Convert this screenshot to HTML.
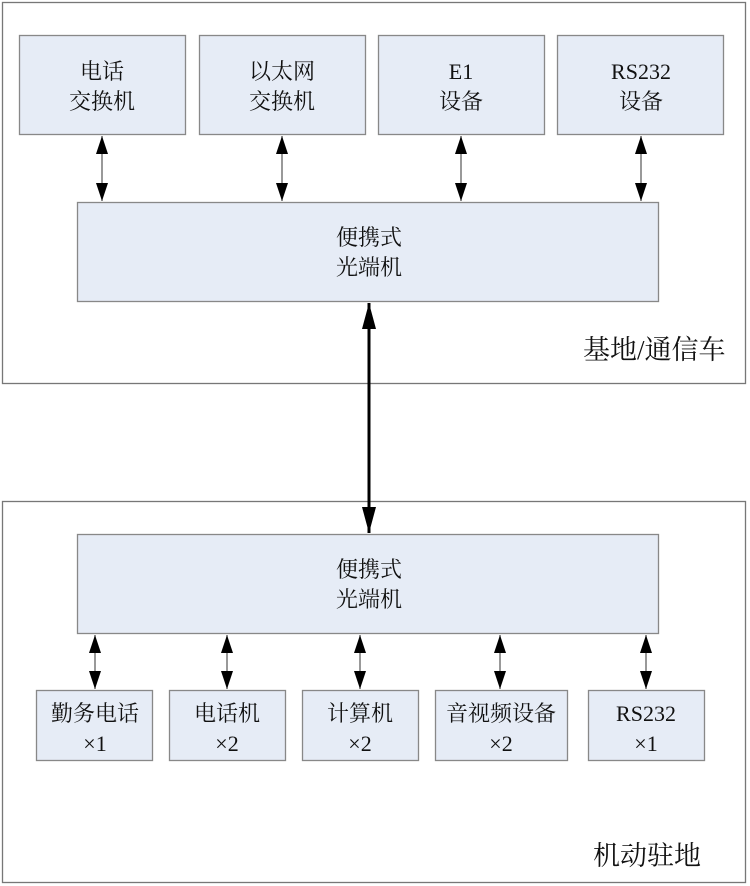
<!DOCTYPE html>
<html><head><meta charset="utf-8"><style>
html,body{margin:0;padding:0;background:#fff;}
svg{display:block;}
text{font-family:"Liberation Serif","Noto Serif CJK SC",serif;fill:#111;}
</style></head><body>
<svg width="750" height="886" viewBox="0 0 750 886" xmlns="http://www.w3.org/2000/svg">
<defs>
<marker id="s" viewBox="0 0 18 12" refX="18" refY="6" markerWidth="18" markerHeight="12" orient="auto-start-reverse" markerUnits="userSpaceOnUse">
<path d="M0,0 L18,6 L0,12 z" fill="#000"/></marker>
<marker id="b" viewBox="0 0 26 14" refX="26" refY="7" markerWidth="26" markerHeight="14" orient="auto-start-reverse" markerUnits="userSpaceOnUse">
<path d="M0,0 L26,7 L0,14 z" fill="#000"/></marker>
</defs>
<g fill="none" stroke="#777" stroke-width="1.3">
<rect x="2.5" y="2.5" width="743" height="381"/>
<rect x="2.5" y="501.5" width="743" height="381"/>
</g>
<g fill="#e6ecf6" stroke="#888" stroke-width="1.3">
<rect x="19.5" y="35.5" width="166" height="99"/>
<rect x="199.5" y="35.5" width="166" height="99"/>
<rect x="378.5" y="35.5" width="166" height="99"/>
<rect x="557.5" y="35.5" width="166" height="99"/>
<rect x="77.5" y="202.5" width="581" height="99"/>
<rect x="77.5" y="534.5" width="581" height="99"/>
<rect x="36.5" y="690.5" width="116" height="70"/>
<rect x="169.5" y="690.5" width="116" height="70"/>
<rect x="302.5" y="690.5" width="116" height="70"/>
<rect x="435.5" y="690.5" width="132" height="70"/>
<rect x="588.5" y="690.5" width="116" height="70"/>
</g>
<g stroke="#555" stroke-width="1.2" marker-start="url(#s)" marker-end="url(#s)">
<line x1="102" y1="136" x2="102" y2="201"/>
<line x1="282" y1="136" x2="282" y2="201"/>
<line x1="461" y1="136" x2="461" y2="201"/>
<line x1="641" y1="136" x2="641" y2="201"/>
<line x1="95" y1="635" x2="95" y2="689"/>
<line x1="227" y1="635" x2="227" y2="689"/>
<line x1="360" y1="635" x2="360" y2="689"/>
<line x1="500" y1="635" x2="500" y2="689"/>
<line x1="646" y1="635" x2="646" y2="689"/>
</g>
<line x1="369" y1="303" x2="369" y2="533" stroke="#000" stroke-width="3" marker-start="url(#b)" marker-end="url(#b)"/>
<g font-size="22" text-anchor="middle">
<text x="102" y="79">电话</text><text x="102" y="109">交换机</text>
<text x="282" y="79">以太网</text><text x="282" y="109">交换机</text>
<text x="461" y="79">E1</text><text x="461" y="109">设备</text>
<text x="641" y="79">RS232</text><text x="641" y="109">设备</text>
<text x="369" y="245">便携式</text><text x="369" y="275">光端机</text>
<text x="369" y="577">便携式</text><text x="369" y="607">光端机</text>
<text x="95" y="721">勤务电话</text><text x="95" y="751">×1</text>
<text x="227" y="721">电话机</text><text x="227" y="751">×2</text>
<text x="360" y="721">计算机</text><text x="360" y="751">×2</text>
<text x="501" y="721">音视频设备</text><text x="501" y="751">×2</text>
<text x="646" y="721">RS232</text><text x="646" y="751">×1</text>
</g>
<text x="583" y="359" font-size="27">基地/通信车</text>
<text x="593" y="865" font-size="27">机动驻地</text>
</svg>
</body></html>
